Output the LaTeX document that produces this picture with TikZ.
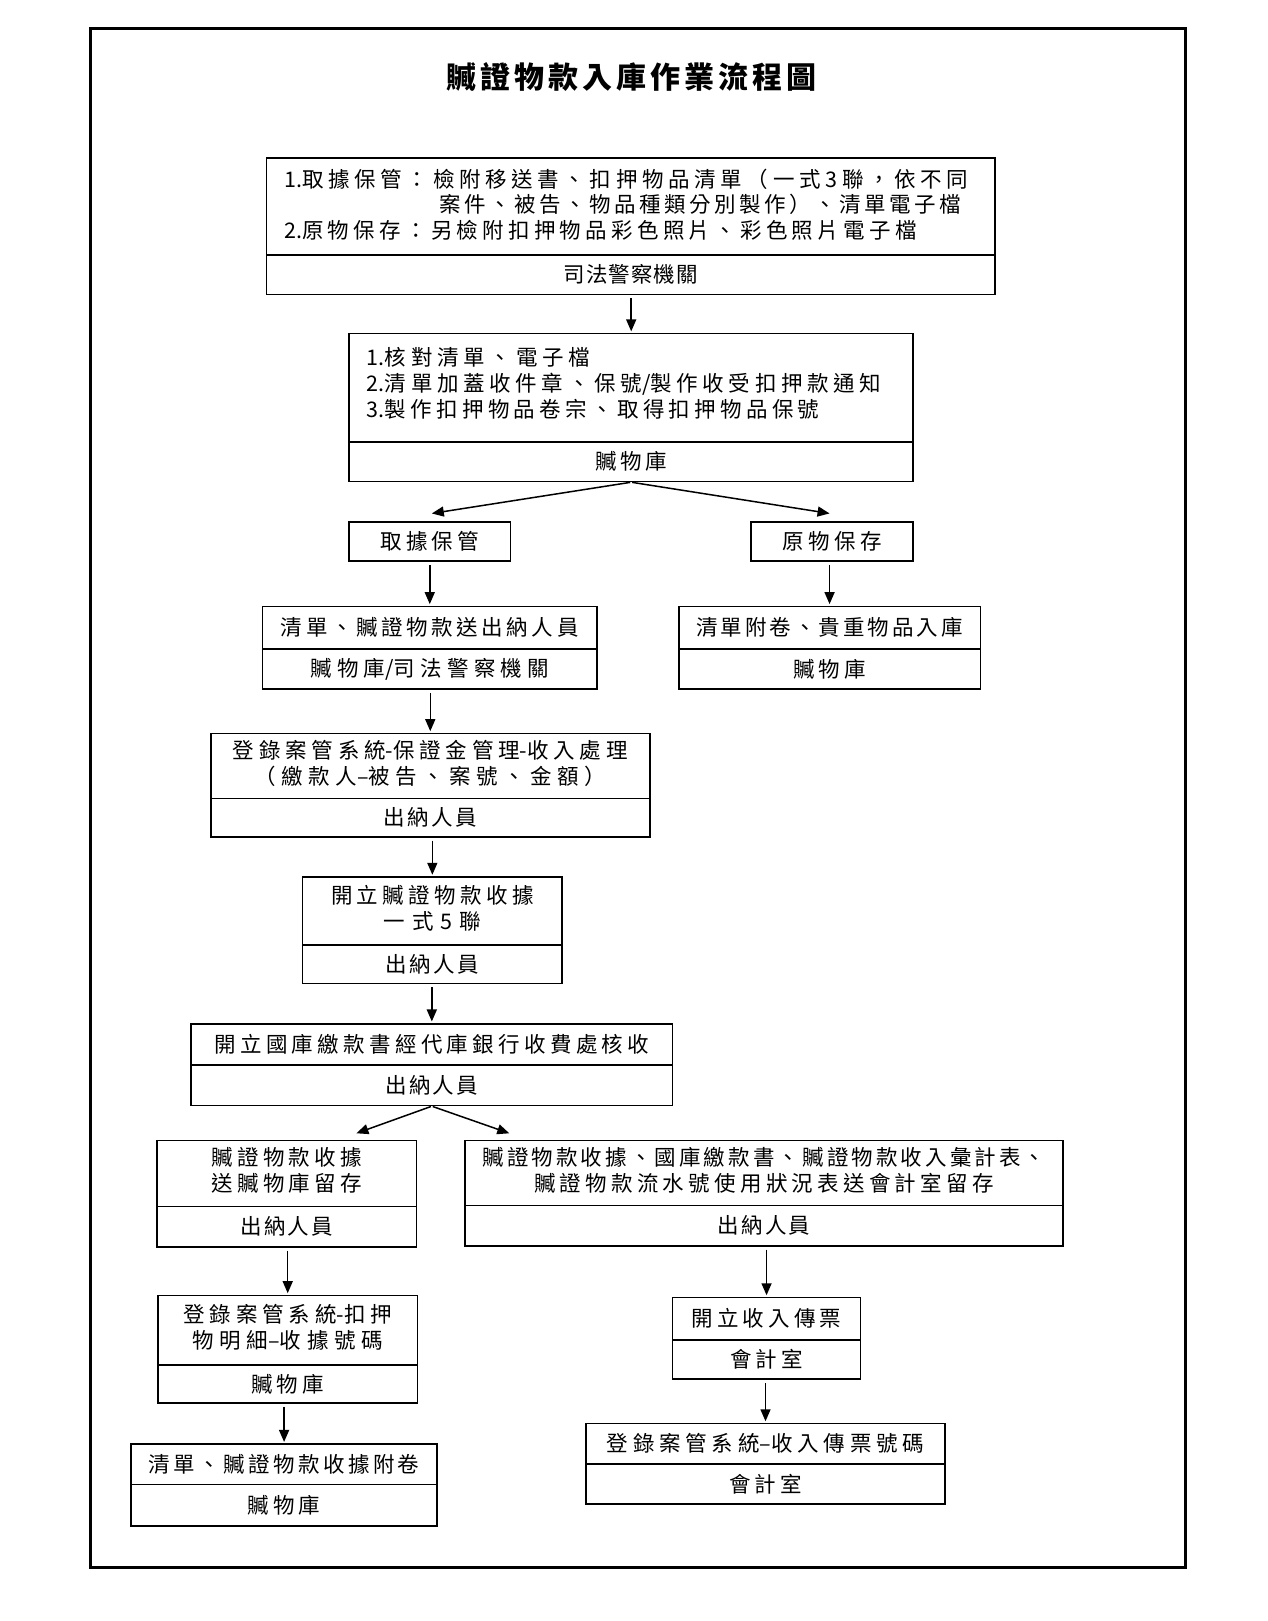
\documentclass[tikz,border=0pt]{standalone}
\usepackage{fontspec}
\setmainfont{Noto Sans CJK TC}
\usetikzlibrary{arrows.meta,calc}
\newdimen\uu \uu=1.0331pt
\newcount\cjkcnt
\cjkcnt="3000
\loop \XeTeXcharclass\cjkcnt=1 \advance\cjkcnt 1 \ifnum\cjkcnt<"A000 \repeat
\cjkcnt="FF00
\loop \XeTeXcharclass\cjkcnt=1 \advance\cjkcnt 1 \ifnum\cjkcnt<"FFF0 \repeat
\XeTeXinterchartoks 1 1 = {\hskip 0pt plus 1fil\relax}
\newcommand\jl[2]{\hbox to #1\uu{\XeTeXinterchartokenstate=1\relax #2}}
\newcommand\fg{\hskip 0pt plus 1fil\relax}
\newcommand\twoln[4]{\begin{tabular}{@{}c@{}}\jl{#1}{#2}\\\jl{#3}{#4}\end{tabular}}
\newcommand\mkbox[8]{%
  \node[cell, minimum width={(#5-#2)*1.0331pt}, minimum height={(#4-#3)*1.0331pt}]
    (#1) at ({(#2+#5)/2},{(#3+#4)/2}) {#7};
  \node[cell, minimum width={(#5-#2)*1.0331pt}, minimum height={(#6-#4)*1.0331pt}]
    (#1-l) at ({(#2+#5)/2},{(#4+#6)/2}) {#8};
}
\tikzset{
  cell/.style={draw, line width=1.6pt, inner sep=0pt,
    font=\fontsize{21.5}{25.8}\selectfont},
  txt/.style={inner sep=0pt, align=left, font=\fontsize{21.5}{25.8}\selectfont},
  arr/.style={line width=1.5pt, -{Triangle[length=12pt,width=10pt]},
    shorten <=3pt, shorten >=1.5pt},
}
\begin{document}
\begin{tikzpicture}[x=1.0331pt, y=-1.0331pt]
\useasboundingbox (0,0) rectangle (1227.4,1569.1);
\draw[line width=3pt] (88,28) rectangle (1148,1517);
\node[inner sep=0pt, font=\fontsize{30}{36}\selectfont\bfseries] (title) at (611,75)
  {\jl{358}{贓證物款入庫作業流程圖}};

% box 1
\mkbox{b1}{258}{153}{247}{963}{285}{}{\jl{130}{司法警察機關}}
\node[txt, anchor=west] (b1t) at (275,198)
 {\jl{662}{1.取據保管：檢附移送書、扣押物品清單（一式\fg 3\fg 聯，依不同}\\
  \hspace*{150\uu}\jl{505}{案件、被告、物品種類分別製作）、清單電子檔}\\
  \jl{612}{2.原物保存：另檢附扣押物品彩色照片、彩色照片電子檔}};

% box 2
\mkbox{b2}{338}{323}{428}{884}{466}{}{\jl{70}{贓物庫}}
\node[txt, anchor=west] (b2t) at (355,371)
 {\jl{216}{1.核對清單、電子檔}\\
  \jl{498}{2.清單加蓋收件章、保號/製作收受扣押款通知}\\
  \jl{438}{3.製作扣押物品卷宗、取得扣押物品保號}};

% branch boxes
\node[cell, minimum width={156*1.0331pt}, minimum height={38*1.0331pt}] (q1) at (416,524) {\jl{96}{取據保管}};
\node[cell, minimum width={157*1.0331pt}, minimum height={38*1.0331pt}] (q2) at (805.5,524) {\jl{96}{原物保存}};

\mkbox{b3}{254}{587}{628}{578}{667}{\jl{288}{清單、贓證物款送出納人員}}{\jl{231}{贓物庫/司法警察機關}}
\mkbox{b4}{657}{587}{628}{949}{667}{\jl{258}{清單附卷、貴重物品入庫}}{\jl{70}{贓物庫}}

\mkbox{b5}{204}{710}{773}{629}{810}{\twoln{382}{登錄案管系統-保證金管理-收入處理}{340}{（繳款人–被告、案號、金額）}}{\jl{90}{出納人員}}
\mkbox{b6}{293}{849}{915}{544}{952}{\twoln{196}{開立贓證物款收據}{94}{一式\fg 5\fg 聯}}{\jl{90}{出納人員}}
\mkbox{b7}{185}{991}{1031}{651}{1070}{\jl{421}{開立國庫繳款書經代庫銀行收費處核收}}{\jl{90}{出納人員}}

\mkbox{c1}{152}{1104}{1168}{403}{1207}{\twoln{145}{贓證物款收據}{145}{送贓物庫留存}}{\jl{90}{出納人員}}
\mkbox{c2}{450}{1104}{1167}{1029}{1206}{\twoln{545}{贓證物款收據、國庫繳款書、贓證物款收入彙計表、}{445}{贓證物款流水號使用狀況表送會計室留存}}{\jl{90}{出納人員}}
\mkbox{c3}{153}{1254}{1321}{404}{1358}{\twoln{202}{登錄案管系統-扣押}{184}{物明細–收據號碼}}{\jl{70}{贓物庫}}
\mkbox{c4}{127}{1398}{1437}{423}{1477}{\jl{262}{清單、贓證物款收據附卷}}{\jl{70}{贓物庫}}
\mkbox{c5}{651}{1256}{1297}{833}{1335}{\jl{145}{開立收入傳票}}{\jl{70}{會計室}}
\mkbox{c6}{567}{1378}{1417}{915}{1456}{\jl{307}{登錄案管系統–收入傳票號碼}}{\jl{70}{會計室}}

% connectors
\coordinate (t1) at (418,497);
\coordinate (t2) at (803,497);
\coordinate (t3) at (345,1097);
\coordinate (t4) at (493,1097);

\draw[arr] (b2.north |- b1-l.south) -- (b2.north);
\draw[arr, shorten <=1pt, shorten >=0pt] (b2-l.south) -- (t1);
\draw[arr, shorten <=1pt, shorten >=0pt] (b2-l.south) -- (t2);
\draw[arr] (b3.north |- q1.south) -- (b3.north);
\draw[arr] (b4.north |- q2.south) -- (b4.north);
\draw[arr] (b5.north |- b3-l.south) -- (b5.north);
\draw[arr] (b6.north |- b5-l.south) -- (b6.north);
\draw[arr] (b7.north |- b6-l.south) -- (b7.north);
\draw[arr, shorten <=1pt, shorten >=0pt] (b7-l.south) -- (t3);
\draw[arr, shorten <=1pt, shorten >=0pt] (b7-l.south) -- (t4);
\draw[arr] (c3.north |- c1-l.south) -- (c3.north);
\draw[arr] (c4.north |- c3-l.south) -- (c4.north);
\draw[arr] (c5.north |- c2-l.south) -- (c5.north);
\draw[arr] (c6.north |- c5-l.south) -- (c6.north);
\end{tikzpicture}
\end{document}
